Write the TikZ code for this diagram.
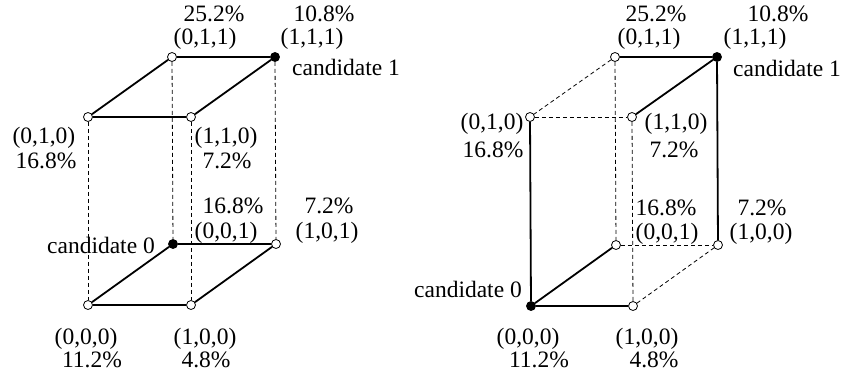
\documentclass[tikz,border=0pt]{standalone}
\usepackage{fontspec}
\setmainfont{Liberation Serif}
\begin{document}
\begin{tikzpicture}[x=1pt,y=-1pt,
  vtx/.style={circle,draw,line width=0.8pt,fill=white,minimum size=9pt,inner sep=0pt},
  cand/.style={vtx,fill=black},
  lbl/.style={anchor=base,inner sep=0pt,font=\fontsize{23.5}{28}\selectfont},
  solidedge/.style={line width=1.8pt},
  dashedge/.style={line width=0.8pt,dash pattern=on 4pt off 3pt}]
\useasboundingbox (0,0) rectangle (841,378);

% ---------------- left cube ----------------
\node[vtx]  (a011) at (172,57) {};
\node[cand] (a111) at (275,57) {};
\node[vtx]  (a010) at (88,117) {};
\node[vtx]  (a110) at (191,117) {};
\node[cand] (a001) at (173,244) {};
\node[vtx]  (a101) at (276,244) {};
\node[vtx]  (a000) at (88,305) {};
\node[vtx]  (a100) at (191,305) {};

\draw[dashedge] (a010) -- (a000);
\draw[dashedge] (a011) -- (a001);
\draw[dashedge] (a110) -- (a100);
\draw[dashedge] (a111) -- (a101);
\draw[solidedge] (a011) -- (a111);
\draw[solidedge] (a011) -- (a010);
\draw[solidedge] (a010) -- (a110);
\draw[solidedge] (a110) -- (a111);
\draw[solidedge] (a001) -- (a101);
\draw[solidedge] (a001) -- (a000);
\draw[solidedge] (a000) -- (a100);
\draw[solidedge] (a100) -- (a101);

\node[lbl] (la011p) at (214,21) {25.2\%};
\node[lbl] (la011)  at (205,44) {(0,1,1)};
\node[lbl] (la111p) at (324,21) {10.8\%};
\node[lbl] (la111)  at (312,44) {(1,1,1)};
\node[lbl,anchor=base west] (lac1) at (292,75) {candidate 1};
\node[lbl] (la010)  at (44,143) {(0,1,0)};
\node[lbl] (la010p) at (46,168) {16.8\%};
\node[lbl] (la110)  at (226,143) {(1,1,0)};
\node[lbl] (la110p) at (227,168) {7.2\%};
\node[lbl] (la001p) at (233,213) {16.8\%};
\node[lbl] (la001)  at (226,238) {(0,0,1)};
\node[lbl] (la101p) at (329,213) {7.2\%};
\node[lbl] (la101)  at (327,238) {(1,0,1)};
\node[lbl,anchor=base east] (lac0) at (155,253) {candidate 0};
\node[lbl] (la000)  at (86,344) {(0,0,0)};
\node[lbl] (la000p) at (92,367) {11.2\%};
\node[lbl] (la100)  at (205,344) {(1,0,0)};
\node[lbl] (la100p) at (206,367) {4.8\%};

% ---------------- right cube ----------------
\node[vtx]  (b011) at (615,57) {};
\node[cand] (b111) at (717,57) {};
\node[vtx]  (b010) at (530,117) {};
\node[vtx]  (b110) at (632,117) {};
\node[vtx]  (b001) at (616,245) {};
\node[vtx]  (b101) at (718,245) {};
\node[cand] (b000) at (531,306) {};
\node[vtx]  (b100) at (633,306) {};

\draw[dashedge] (b011) -- (b010);
\draw[dashedge] (b010) -- (b110);
\draw[dashedge] (b011) -- (b001);
\draw[dashedge] (b110) -- (b100);
\draw[dashedge] (b001) -- (b101);
\draw[dashedge] (b100) -- (b101);
\draw[solidedge] (b011) -- (b111);
\draw[solidedge] (b111) -- (b110);
\draw[solidedge] (b010) -- (b000);
\draw[solidedge] (b111) -- (b101);
\draw[solidedge] (b000) -- (b001);
\draw[solidedge] (b000) -- (b100);

\node[lbl] (lb011p) at (656,21) {25.2\%};
\node[lbl] (lb011)  at (649,44) {(0,1,1)};
\node[lbl] (lb111p) at (778,21) {10.8\%};
\node[lbl] (lb111)  at (755,44) {(1,1,1)};
\node[lbl,anchor=base west] (lbc1) at (733,76) {candidate 1};
\node[lbl] (lb010)  at (492,129) {(0,1,0)};
\node[lbl] (lb010p) at (493,157) {16.8\%};
\node[lbl] (lb110)  at (676,129) {(1,1,0)};
\node[lbl] (lb110p) at (674,157) {7.2\%};
\node[lbl] (lb001p) at (666,215) {16.8\%};
\node[lbl] (lb001)  at (667,239) {(0,0,1)};
\node[lbl] (lb101p) at (762,215) {7.2\%};
\node[lbl] (lb101)  at (761,239) {(1,0,0)};
\node[lbl,anchor=base east] (lbc0) at (522,297) {candidate 0};
\node[lbl] (lb000)  at (528,344) {(0,0,0)};
\node[lbl] (lb000p) at (539,367) {11.2\%};
\node[lbl] (lb100)  at (647,344) {(1,0,0)};
\node[lbl] (lb100p) at (654,367) {4.8\%};
\end{tikzpicture}
\end{document}
